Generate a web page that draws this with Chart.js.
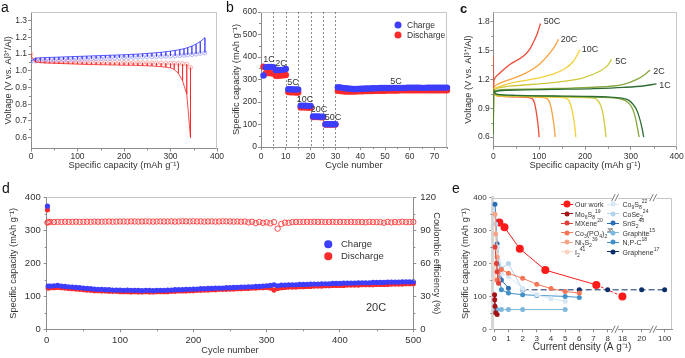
<!DOCTYPE html>
<html>
<head>
<meta charset="utf-8">
<script src="https://cdn.jsdelivr.net/npm/chart.js@4.4.1/dist/chart.umd.min.js"></script>
<style>
html,body{margin:0;padding:0;background:#fff;}
body{width:685px;height:358px;position:relative;overflow:hidden;font-family:"Liberation Sans",Arial,Helvetica,sans-serif;color:#333;}
canvas{position:absolute;}
.lab{position:absolute;white-space:nowrap;line-height:1;transform:translate(-50%,-50%);color:#333;}
.pl{position:absolute;font-size:14px;line-height:1;color:#111;}
.lg{position:absolute;white-space:nowrap;line-height:1;transform:translateY(-50%);color:#333;}
.dot{position:absolute;border-radius:50%;transform:translate(-50%,-50%);}
.ln{position:absolute;height:1px;}
sub,sup{font-size:72%;line-height:0;}
</style>
</head>
<body>
<canvas id="ca" width="225" height="175" style="left:0px;top:0px"></canvas>
<canvas id="cb" width="230" height="175" style="left:225px;top:0px"></canvas>
<canvas id="cc" width="230" height="175" style="left:455px;top:0px"></canvas>
<canvas id="cd" width="455" height="183" style="left:0px;top:175px"></canvas>
<canvas id="ce" width="230" height="183" style="left:455px;top:175px"></canvas>

<div class="pl" style="left:1px;top:0px;">a</div>
<div class="pl" style="left:226px;top:0px;">b</div>
<div class="pl" style="left:460px;top:2px;font-weight:bold;font-size:13px;">c</div>
<div class="pl" style="left:2px;top:181px;">d</div>
<div class="pl" style="left:452px;top:181px;">e</div>

<!-- panel b annotations -->
<div class="lab" style="left:269px;top:59px;font-size:9px;">1C</div>
<div class="lab" style="left:281px;top:63px;font-size:9px;">2C</div>
<div class="lab" style="left:293px;top:82px;font-size:9px;">5C</div>
<div class="lab" style="left:305px;top:99px;font-size:9px;">10C</div>
<div class="lab" style="left:319px;top:109px;font-size:9px;">20C</div>
<div class="lab" style="left:333px;top:117px;font-size:9px;">50C</div>
<div class="lab" style="left:396px;top:81px;font-size:9px;">5C</div>
<div class="dot" style="left:398px;top:25px;width:7px;height:7px;background:#3d3dfc;"></div>
<div class="dot" style="left:398px;top:35px;width:7px;height:7px;background:#fa2a2a;"></div>
<div class="lg" style="left:407px;top:25px;font-size:8.5px;">Charge</div>
<div class="lg" style="left:407px;top:35px;font-size:8.5px;">Discharge</div>

<!-- panel c annotations -->
<div class="lab" style="left:552px;top:21px;font-size:9px;">50C</div>
<div class="lab" style="left:569px;top:39px;font-size:9px;">20C</div>
<div class="lab" style="left:590px;top:49px;font-size:9px;">10C</div>
<div class="lab" style="left:621px;top:61px;font-size:9px;">5C</div>
<div class="lab" style="left:659px;top:71px;font-size:9px;">2C</div>
<div class="lab" style="left:665px;top:85px;font-size:9px;">1C</div>

<!-- panel d annotations -->
<div class="dot" style="left:328px;top:244px;width:7.5px;height:7.5px;background:#3d3dfc;"></div>
<div class="dot" style="left:328px;top:256px;width:7.5px;height:7.5px;background:#fa2a2a;"></div>
<div class="lg" style="left:341px;top:244px;font-size:9.5px;">Charge</div>
<div class="lg" style="left:341px;top:256px;font-size:9.5px;">Discharge</div>
<div class="lab" style="left:376px;top:307px;font-size:11px;">20C</div>

<div id="elegend"></div>

<script>
// ================= DATA =================
// --- a: GITT ---
const gittChargeCap   = [0,10,20,30,40,50,60,70,80,90,100,110,120,130,140,150,160,170,180,190,200,210,220,230,240,250,260,270,280,290,300,310,320,329,337,346,355,364,374];
const gittChargePeak  = [1.060,1.076,1.078,1.079,1.080,1.081,1.082,1.083,1.084,1.085,1.086,1.087,1.088,1.089,1.090,1.091,1.092,1.093,1.094,1.095,1.096,1.097,1.099,1.100,1.102,1.104,1.106,1.108,1.111,1.114,1.118,1.122,1.127,1.132,1.139,1.148,1.160,1.175,1.198];
const gittChargeRelax = [1.055,1.058,1.060,1.061,1.062,1.063,1.064,1.065,1.066,1.067,1.068,1.069,1.070,1.071,1.072,1.073,1.074,1.075,1.076,1.077,1.078,1.079,1.080,1.081,1.082,1.083,1.084,1.085,1.086,1.087,1.088,1.089,1.091,1.093,1.095,1.097,1.100,1.104,1.108];
const gittDisCap      = [0,10,20,30,40,50,60,70,80,90,100,110,120,130,140,150,160,170,180,190,200,210,220,230,240,250,260,270,280,290,300,308,317,326,335,343];
const gittDisBottom   = [1.090,1.052,1.049,1.047,1.046,1.045,1.044,1.043,1.042,1.041,1.040,1.039,1.038,1.037,1.037,1.036,1.036,1.035,1.035,1.034,1.034,1.033,1.033,1.032,1.031,1.030,1.029,1.027,1.025,1.022,1.018,1.008,0.985,0.940,0.860,0.600];
const gittDisRelax    = [1.100,1.066,1.061,1.058,1.057,1.056,1.056,1.055,1.055,1.054,1.054,1.054,1.053,1.053,1.053,1.052,1.052,1.052,1.051,1.051,1.051,1.050,1.050,1.050,1.049,1.049,1.048,1.048,1.047,1.046,1.045,1.045,1.044,1.042,1.040,1.020];
const aXTicks = [0,100,200,300,400];
const aYTicks = [0.6,0.7,0.8,0.9,1.0,1.1,1.2,1.3];

// --- b: rate performance ---
const bCycles = [1,2,3,4,5,6,7,8,9,10,11,12,13,14,15,16,17,18,19,20,21,22,23,24,25,26,27,28,29,30,31,32,33,34,35,36,37,38,39,40,41,42,43,44,45,46,47,48,49,50,51,52,53,54,55,56,57,58,59,60,61,62,63,64,65,66,67,68,69,70,71,72,73,74,75];
const bCharge = [318,355,356,356,355,341,342,343,344,347,257,257,256,256,256,184,184,184,183,183,136,136,136,135,135,101,101,101,101,101,
  266,265,263,261,260,259,258,258,258,259,259,260,260,260,261,261,261,262,262,262,262,262,263,263,263,263,263,263,264,264,264,264,264,264,263,263,264,264,264,264,264,264,264,264,264];
const bDischarge = [357,328,329,328,327,317,317,318,319,320,244,243,243,242,242,176,176,176,175,175,133,133,133,132,132,100,100,100,100,100,
  250,249,248,247,247,247,247,247,248,248,248,249,249,249,249,250,250,250,250,250,251,251,251,251,251,252,252,252,252,252,252,252,252,252,252,252,252,252,252,252,252,252,252,252,252];
const bRateBoundaries = [5,10,15,20,25,30];
const bXTicks = [0,10,20,30,40,50,60,70];
const bYTicks = [0,100,200,300,400,500,600];

// --- c: charge/discharge profiles ---
const chg1C_cap  = [0,0.5,2,30,140,220,284,330,356];
const chg1C_v    = [0.63,1.0,1.07,1.088,1.097,1.105,1.118,1.135,1.155];
const chg2C_cap  = [0,0.5,2,15,102,211,284,313,330,342];
const chg2C_v    = [0.63,1.0,1.08,1.093,1.103,1.118,1.149,1.201,1.25,1.30];
const chg5C_cap  = [0,0.5,2,10,36,124,196,233,250,258];
const chg5C_v    = [0.63,1.0,1.09,1.11,1.13,1.165,1.217,1.288,1.35,1.41];
const chg10C_cap = [0,0.5,2,10,36,100,130,153,175,189];
const chg10C_v   = [0.65,1.02,1.1,1.12,1.16,1.217,1.255,1.304,1.39,1.51];
const chg20C_cap = [0,0.5,2,10,30,65,100,124,136,142];
const chg20C_v   = [0.7,1.05,1.12,1.15,1.19,1.253,1.357,1.479,1.56,1.62];
const chg50C_cap = [0,0.5,2,15,36,66,80,87,96,103];
const chg50C_v   = [1.0,1.15,1.2,1.27,1.357,1.444,1.52,1.583,1.68,1.784];
const dis1C_cap  = [0,2,5,10,50,100,150,200,250,280,295,305,313,320,325,328];
const dis1C_v    = [1.1,1.07,1.055,1.045,1.035,1.03,1.027,1.024,1.018,1.005,0.985,0.94,0.88,0.78,0.68,0.6];
const dis2C_cap  = [0,2,5,10,50,100,150,200,250,275,288,298,305,311,315,318];
const dis2C_v    = [1.1,1.065,1.05,1.04,1.032,1.028,1.025,1.02,1.012,1.0,0.98,0.94,0.88,0.78,0.68,0.6];
const dis5C_cap  = [0,2,5,10,50,100,150,200,220,228,235,240,243,246];
const dis5C_v    = [1.1,1.06,1.045,1.035,1.028,1.025,1.02,1.012,1.005,0.98,0.92,0.82,0.72,0.6];
const dis10C_cap = [0,2,5,10,50,100,140,158,165,171,175,178,180];
const dis10C_v   = [1.1,1.06,1.04,1.032,1.025,1.02,1.015,1.005,0.98,0.9,0.8,0.7,0.6];
const dis20C_cap = [0,2,5,10,50,100,115,121,126,130,133,135];
const dis20C_v   = [1.1,1.055,1.04,1.03,1.022,1.015,1.005,0.98,0.91,0.8,0.7,0.6];
const dis50C_cap = [0,0.5,1.5,4,10,40,70,82,88,92,95,98,100];
const dis50C_v   = [1.45,1.2,1.1,1.05,1.03,1.02,1.015,1.005,0.98,0.91,0.82,0.71,0.6];
const cXTicks = [0,100,200,300,400];
const cYTicks = [0.6,0.9,1.2,1.5,1.8];

// --- d: long cycling at 20C ---
const dCycles = [1,2,5,10,15,20,25,30,35,40,45,50,55,60,65,70,75,80,85,90,95,100,105,110,115,120,125,130,135,140,145,150,155,160,165,170,175,180,185,190,195,200,205,210,215,220,225,230,235,240,245,250,255,260,265,270,275,280,285,290,295,300,305,310,315,320,325,330,335,340,345,350,355,360,365,370,375,380,385,390,395,400,405,410,415,420,425,430,435,440,445,450,455,460,465,470,475,480,485,490,495,500];
const dCharge = [373,131, 131,132,133,131,130,129,128,127,126,125, 124,123,122,121,121,120,120,119,119,119, 118,119,118,118,118,117,118,118,117,118, 118,118,119,119,120,120,120,121,121,122, 122,123,123,124,124,125,125,125,126,126, 127,127,128,128,129,129,130,130,131,132, 133,135,132,134,134,135,135,135,136,136, 136,137,137,137,138,138,138,139,139,139, 140,140,140,140,141,141,141,141,142,142, 142,142,143,143,143,143,144,144,144,144];
const dDischarge = [362,125, 126,126,127,126,125,124,123,122,121,120, 119,118,117,117,116,116,115,115,115,114, 114,114,113,114,113,113,114,113,113,114, 114,114,114,115,115,116,116,116,117,117, 118,118,119,119,120,120,121,121,121,122, 122,123,123,124,124,125,125,126,126,127, 125,119,124,126,127,128,128,128,129,129, 130,130,131,131,131,132,132,133,133,133, 133,134,134,134,134,135,135,135,135,136, 136,136,136,137,137,137,137,138,138,138];
const dCE = [97.0,97.5, 97.6,97.5,97.7,97.6,97.8,97.6,97.7,97.8,97.6,97.7, 97.8,97.7,97.9,97.8,97.8,97.9,98.0,97.8,97.9,98.0, 98.0,97.9,98.1,98.0,97.9,98.0,98.1,98.0,97.9,98.0, 98.1,98.0,98.0,98.1,97.9,98.0,98.2,98.1,98.0,98.2, 98.0,98.1,97.9,98.0,98.1,97.9,98.0,98.2,98.1,98.0, 97.9,98.0,97.8,98.0,97.2,97.8,96.6,97.5,96.8,97.2, 96.3,97.4,91.5,95.8,97.0,96.8,97.4,97.6,97.5,97.6, 97.7,97.6,97.8,97.6,97.7,97.5,97.6,97.7,97.5,97.6, 97.6,97.5,97.7,97.4,97.6,97.5,97.3,97.6,97.4,97.5, 97.4,96.9,97.6,97.2,97.5,97.3,97.8,97.4,97.5,97.6];
const dXTicks = [0,100,200,300,400,500];
const dYTicks = [0,100,200,300,400];
const dY2Ticks = [0,30,60,90,120];

// --- e: comparison (current density in A g-1, capacity in mAh g-1) ---
const eOurX = [0.36,0.72,1.8,3.6,7.2,18],      eOurY = [325,310,245,180,135,100];
const eMoX  = [0.02,0.03,0.05,0.1,0.2],        eMoY  = [105,90,70,50,45];
const eMXX  = [0.05,0.15,0.2,0.3],             eMXY  = [250,200,175,140];
const eCoPX = [0.2,0.5,1,2,3,4,5,6],           eCoPY = [150,182,170,155,137,124,115,110];
const eNiX  = [0.05,0.1,0.2,0.3],              eNiY  = [350,290,220,150];
const eIX   = [0.02,0.05],                     eIY   = [200,150];
const eCo9X = [0.2,0.5,1,2,3,4,5],             eCo9Y = [250,170,160,125,105,93,85];
const eCoSeX= [0.1,0.2,0.5,1,2],               eCoSeY= [320,250,185,200,120];
const eSnX  = [0.05,0.2,0.5,1],                eSnY  = [380,260,150,125];
const eGrX  = [0.1,0.2,0.5,1,2,5],             eGrY  = [60,60,60,60,60,60];
const eNPX  = [0.2,0.5,1,2,3,5,6],             eNPY  = [200,120,110,105,103,100,97];
const eGnX  = [2,6,8,20,100],                  eGnY  = [120,120,120,120,120];
const eXTickVals = [0,1,2,3,4,5,6,7,8,18,20,100];
const eYTicks = [0,100,200,300,400];
// broken-axis segments: real value -> axis position
const eBreakReal = [0,8,18,20,100];
const eBreakPos  = [0,8,9.04,10.4,12.02];

// ================= HELPERS =================
Chart.defaults.font.family = '"Liberation Sans", Arial, Helvetica, sans-serif';
Chart.defaults.color = '#333';
const AXC = '#8c8c8c', FRAMEC = '#c6c6c6', TXT = '#333';

function zeroPad(s){ s.paddingLeft = 0; s.paddingRight = 0; s.paddingTop = 0; s.paddingBottom = 0; }
function axis(o){
  return {
    type:'linear', position:o.pos, min:o.min, max:o.max,
    border:{display:true, color:o.bc||AXC, width:o.bw||1},
    grid:{display:true, drawOnChartArea:false, drawTicks:true, tickLength:3, tickWidth:1, tickColor:AXC, color:AXC},
    ticks:{font:{size:o.fs}, color:TXT, padding:o.tp, autoSkip:false, maxRotation:0, minRotation:0,
           callback: o.fmt || (v => String(v))},
    afterBuildTicks: s => { s.ticks = o.ticks.map(v => ({value:v})); },
    title:{display:true, text:o.title, font:{size:o.ts}, color:TXT, padding:{top:o.tpad, bottom:o.tpad}},
    afterFit: s => { if (o.w != null) s.width = o.w; if (o.h != null) s.height = o.h; zeroPad(s); }
  };
}
function pts(xs, ys, f){ return xs.map((x,i) => ({x: f ? f(x) : x, y: ys[i]})); }
function gittPath(cap, pulse, relax){
  const out = [];
  cap.forEach((x,i) => { out.push({x, y:pulse[i]}, {x, y:relax[i]}, {x, y:pulse[i]}); });
  return out;
}
function toPos(v){
  for (let i = 1; i < eBreakReal.length; i++) {
    if (v <= eBreakReal[i]) {
      const t = (v - eBreakReal[i-1]) / (eBreakReal[i] - eBreakReal[i-1]);
      return eBreakPos[i-1] + t * (eBreakPos[i] - eBreakPos[i-1]);
    }
  }
  return eBreakPos[eBreakPos.length-1];
}
const framePlugin = {
  id:'frame',
  beforeDatasetsDraw(chart, args, opts){
    const {ctx, chartArea:a} = chart;
    ctx.save(); ctx.strokeStyle = FRAMEC; ctx.lineWidth = 1;
    ctx.beginPath();
    ctx.moveTo(a.left, Math.round(a.top)+0.5);
    ctx.lineTo(Math.round(a.right)-0.5, Math.round(a.top)+0.5);
    if (!opts.noRight) ctx.lineTo(Math.round(a.right)-0.5, a.bottom);
    ctx.stroke(); ctx.restore();
  }
};
// minor (unlabelled) ticks, drawn outward like the major ones
const minorPlugin = {
  id:'minor',
  afterDraw(chart, args, opts){
    if (!opts.axes) return;
    const ctx = chart.ctx;
    ctx.save(); ctx.strokeStyle = AXC; ctx.lineWidth = 1;
    opts.axes.forEach(([id, vals]) => {
      const s = chart.scales[id];
      vals.forEach(v => {
        const p = Math.round(s.getPixelForValue(v)) + 0.5;
        ctx.beginPath();
        if (s.isHorizontal()) { ctx.moveTo(p, s.top); ctx.lineTo(p, s.top + 2); }
        else if (s.position === 'left') { ctx.moveTo(s.right, p); ctx.lineTo(s.right - 2, p); }
        else { ctx.moveTo(s.left, p); ctx.lineTo(s.left + 2, p); }
        ctx.stroke();
      });
    });
    ctx.restore();
  }
};
const vlinePlugin = {
  id:'vlines',
  beforeDatasetsDraw(chart, args, opts){
    if (!opts.values) return;
    const {ctx, chartArea:a, scales:{x}} = chart;
    ctx.save(); ctx.setLineDash([2,2]); ctx.strokeStyle = '#6e6e6e'; ctx.lineWidth = 0.8;
    opts.values.forEach(v => {
      const px = Math.round(x.getPixelForValue(v)) + 0.5;
      ctx.beginPath(); ctx.moveTo(px, a.top); ctx.lineTo(px, a.bottom); ctx.stroke();
    });
    ctx.restore();
  }
};
const breakPlugin = {
  id:'breaks',
  afterDraw(chart, args, opts){
    if (!opts.at) return;
    const {ctx, chartArea:a, scales:{x}} = chart;
    ctx.save();
    opts.at.forEach(d => {
      const px = x.getPixelForValue(d);
      [a.top, a.bottom].forEach(py => {
        ctx.fillStyle = '#fff'; ctx.fillRect(px-3, py-2, 6, 4);
        ctx.strokeStyle = '#555'; ctx.lineWidth = 0.8;
        [-1.7, 1.7].forEach(o => { ctx.beginPath(); ctx.moveTo(px+o-1.8, py+3.5); ctx.lineTo(px+o+1.8, py-3.5); ctx.stroke(); });
      });
    });
    ctx.restore();
  }
};
const base = (pad) => ({
  responsive:false, devicePixelRatio:1, animation:false, events:[],
  layout:{padding:pad},
  plugins:{legend:{display:false}, tooltip:{enabled:false}}
});

// ================= PANEL a =================
{
  const o = base({top:12,right:8,left:0,bottom:0});
  o.plugins.minor = {axes:[['x',[50,150,250,350]],['y',[0.65,0.75,0.85,0.95,1.05,1.15,1.25]]]};
  o.scales = {
    x: axis({pos:'bottom', min:0, max:400, ticks:aXTicks, fs:8.5, tp:0, title:'Specific capacity (mAh g⁻¹)', ts:9.3, tpad:4.4, h:26.5}),
    y: axis({pos:'left', min:0.535, max:1.352, ticks:aYTicks, fmt:v => v.toFixed(1), fs:8.5, tp:1, title:'Voltage (V vs. Al³⁺/Al)', ts:9.3, tpad:2.7, w:31})
  };
  new Chart(document.getElementById('ca'), {
    type:'line',
    data:{datasets:[
      {data:gittPath(gittChargeCap, gittChargePeak, gittChargeRelax), borderColor:'#3030ff', borderWidth:0.8, pointRadius:0, tension:0},
      {data:gittPath(gittDisCap, gittDisBottom, gittDisRelax), borderColor:'#ff2020', borderWidth:0.8, pointRadius:0, tension:0},
      {data:pts(gittChargeCap, gittChargeRelax), showLine:false, pointRadius:2, pointBorderWidth:0.8, pointBorderColor:'#a0a0ff', pointBackgroundColor:'rgba(0,0,0,0)'},
      {data:pts(gittDisCap, gittDisRelax), showLine:false, pointRadius:2, pointBorderWidth:0.8, pointBorderColor:'#ff9a9a', pointBackgroundColor:'rgba(0,0,0,0)'}
    ]},
    options:o,
    plugins:[framePlugin, minorPlugin]
  });
}

// ================= PANEL b =================
{
  const o = base({top:12,right:8,left:0,bottom:0});
  o.plugins.vlines = {values:bRateBoundaries};
  o.plugins.minor = {axes:[['x',[5,15,25,35,45,55,65,75]],['y',[50,150,250,350,450,550]]]};
  o.scales = {
    x: axis({pos:'bottom', min:0, max:75, ticks:bXTicks, fs:8.5, tp:1.2, title:'Cycle number', ts:9.3, tpad:3.7, h:28}),
    y: axis({pos:'left', min:0, max:600, ticks:bYTicks, fs:8.5, tp:1, title:'Specific capacity (mAh g⁻¹)', ts:9.3, tpad:6, w:36})
  };
  new Chart(document.getElementById('cb'), {
    type:'line',
    data:{datasets:[
      {label:'Charge', data:pts(bCycles, bCharge), showLine:false, pointRadius:3.2, pointBorderWidth:0, pointBackgroundColor:'#3d3dfc', clip:false},
      {label:'Discharge', data:pts(bCycles, bDischarge), showLine:false, pointRadius:3.2, pointBorderWidth:0, pointBackgroundColor:'#fa2a2a', clip:false}
    ]},
    options:o,
    plugins:[framePlugin, vlinePlugin, minorPlugin]
  });
}

// ================= PANEL c =================
{
  const rates = [
    ['#2e6e33', chg1C_cap, chg1C_v, dis1C_cap, dis1C_v],
    ['#86a63c', chg2C_cap, chg2C_v, dis2C_cap, dis2C_v],
    ['#cfc83c', chg5C_cap, chg5C_v, dis5C_cap, dis5C_v],
    ['#f5cf3a', chg10C_cap, chg10C_v, dis10C_cap, dis10C_v],
    ['#f7a13c', chg20C_cap, chg20C_v, dis20C_cap, dis20C_v],
    ['#ef4b35', chg50C_cap, chg50C_v, dis50C_cap, dis50C_v]
  ];
  const ds = [];
  rates.forEach(r => {
    ds.push({data:pts(r[1], r[2]), borderColor:r[0], borderWidth:1.3, pointRadius:0, cubicInterpolationMode:'monotone'});
    ds.push({data:pts(r[3], r[4]), borderColor:r[0], borderWidth:1.3, pointRadius:0, cubicInterpolationMode:'monotone'});
  });
  const o = base({top:12.3,right:8.3,left:0,bottom:0});
  o.plugins.minor = {axes:[['x',[50,150,250,350]],['y',[0.75,1.05,1.35,1.65]]]};
  o.scales = {
    x: axis({pos:'bottom', min:0, max:400, ticks:cXTicks, fs:8.5, tp:1.9, title:'Specific capacity (mAh g⁻¹)', ts:9.3, tpad:3.7, h:28.3}),
    y: axis({pos:'left', min:0.5, max:1.9, ticks:cYTicks, fmt:v => v.toFixed(1), fs:8.5, tp:0.5, title:'Voltage (V vs. Al³⁺/Al)', ts:9.3, tpad:7.7, w:38.3})
  };
  new Chart(document.getElementById('cc'), {type:'line', data:{datasets:ds}, options:o, plugins:[framePlugin, minorPlugin]});
}

// ================= PANEL d =================
{
  const o = base({top:22.3,right:12,left:0,bottom:0});
  o.plugins.frame = {noRight:true};
  o.plugins.minor = {axes:[['x',[50,150,250,350,450]],['y',[50,150,250,350]],['y2',[15,45,75,105]]]};
  o.scales = {
    x: axis({pos:'bottom', min:0, max:500, ticks:dXTicks, fs:9.5, tp:2, title:'Cycle number', ts:9.3, tpad:1.7, h:28.7}),
    y: axis({pos:'left', min:0, max:400, ticks:dYTicks, fs:9.5, tp:3, title:'Specific capacity (mAh g⁻¹)', ts:9.3, tpad:7.7, w:46.7}),
    y2: axis({pos:'right', min:0, max:120, ticks:dY2Ticks, fs:9.5, tp:4, title:'Coulombic efficiency (%)', ts:9.3, tpad:0.7, w:29.7})
  };
  new Chart(document.getElementById('cd'), {
    type:'line',
    data:{datasets:[
      {data:pts(dCycles, dCE), yAxisID:'y2', showLine:false, pointRadius:2.7, pointBorderWidth:0.9, pointBorderColor:'#ff3a3a', pointBackgroundColor:'rgba(255,255,255,0)', clip:false},
      {data:pts(dCycles, dCharge), yAxisID:'y', showLine:false, pointRadius:2.6, pointBorderWidth:0, pointBackgroundColor:'#3d3dfc', clip:false},
      {data:pts(dCycles, dDischarge), yAxisID:'y', showLine:false, pointRadius:2.6, pointBorderWidth:0, pointBackgroundColor:'#fa2a2a', clip:false}
    ]},
    options:o,
    plugins:[framePlugin, minorPlugin]
  });
}

// ================= PANEL e =================
const eSeries = [
  {x:eMoX,  y:eMoY,  c:'#a31419', r:2.5, name:'Mo<sub>6</sub>S<sub>8</sub><sup>19</sup>', col:0, row:1},
  {x:eMXX,  y:eMXY,  c:'#e0403a', r:2.5, name:'MXene<sup>20</sup>', col:0, row:2},
  {x:eCoPX, y:eCoPY, c:'#f47656', r:2.5, name:'Co<sub>3</sub>(PO<sub>4</sub>)<sub>2</sub><sup>38</sup>', col:0, row:3},
  {x:eNiX,  y:eNiY,  c:'#f9a487', r:2.5, name:'Ni<sub>3</sub>S<sub>2</sub><sup>39</sup>', col:0, row:4},
  {x:eIX,   y:eIY,   c:'#fcd2c0', r:2.5, name:'I<sub>2</sub><sup>41</sup>', col:0, row:5},
  {x:eCo9X, y:eCo9Y, c:'#d8e7f5', r:2.5, name:'Co<sub>9</sub>S<sub>8</sub><sup>22</sup>', col:1, row:0},
  {x:eCoSeX,y:eCoSeY,c:'#b5d3eb', r:2.5, name:'CoSe<sub>2</sub><sup>24</sup>', col:1, row:1},
  {x:eGrX,  y:eGrY,  c:'#7db8dd', r:2.5, name:'Graphite<sup>15</sup>', col:1, row:3},
  {x:eNPX,  y:eNPY,  c:'#4191c9', r:2.5, name:'N,P-C<sup>18</sup>', col:1, row:4},
  {x:eSnX,  y:eSnY,  c:'#2c6fb6', r:2.5, name:'SnS<sub>2</sub><sup>48</sup>', col:1, row:2},
  {x:eGnX,  y:eGnY,  c:'#0b2f6b', r:2.5, name:'Graphene<sup>17</sup>', col:1, row:5, dash:[6,3]},
  {x:eOurX, y:eOurY, c:'#ff1a1a', r:4,   name:'Our work', col:0, row:0, lastDash:[3,2]}
];
{
  const ds = eSeries.map(s => ({
    data:pts(s.x, s.y, toPos), borderColor:s.c, borderWidth:1, pointRadius:s.r, pointBorderWidth:0,
    pointBackgroundColor:s.c, borderDash:s.dash || [], tension:0, clip:false,
    segment: s.lastDash ? {borderDash: ctx => (ctx.p1DataIndex === s.x.length-1 ? s.lastDash : undefined)} : undefined
  }));
  const xTickPos = eXTickVals.map(toPos);
  const breakAt = [(toPos(8)+toPos(18))/2, (toPos(20)+toPos(100))/2];
  const o = base({top:22.7,right:13,left:0,bottom:0});
  o.plugins.breaks = {at:breakAt};
  o.plugins.minor = {axes:[['y',[50,150,250,350]]]};
  o.scales = {
    x: axis({pos:'bottom', min:-0.14, max:12.54, ticks:xTickPos, fmt:(v,i) => String(eXTickVals[i]), fs:8, tp:1.2, title:'Current density (A g⁻¹)', ts:10, tpad:5.2, h:28.7}),
    y: axis({pos:'left', min:0, max:400, ticks:eYTicks, fs:8, tp:2.6, title:'Specific capacity (mAh g⁻¹)', ts:9.3, tpad:4.4, w:37.3, bc:'#d6d6d6', bw:3})
  };
  new Chart(document.getElementById('ce'), {type:'line', data:{datasets:ds}, options:o, plugins:[framePlugin, breakPlugin, minorPlugin]});

  // legend (HTML text)
  const host = document.getElementById('elegend');
  const colX = [566.5, 613], txtX = [575, 622.5], row0 = 204, rowH = 9.5;
  eSeries.forEach(s => {
    const cy = row0 + s.row * rowH, cx = colX[s.col];
    const line = document.createElement('div');
    line.className = 'ln';
    line.style.cssText = `left:${cx-6}px;top:${cy-0.5}px;width:12px;background:${s.c};`;
    host.appendChild(line);
    const d = document.createElement('div');
    d.className = 'dot';
    const dd = s.r === 4 ? 7 : 5;
    d.style.cssText = `left:${cx}px;top:${cy}px;width:${dd}px;height:${dd}px;background:${s.c};`;
    host.appendChild(d);
    const t = document.createElement('div');
    t.className = 'lg';
    t.style.cssText = `left:${txtX[s.col]}px;top:${cy}px;font-size:7px;`;
    t.innerHTML = s.name;
    host.appendChild(t);
  });
}
</script>
</body>
</html>
